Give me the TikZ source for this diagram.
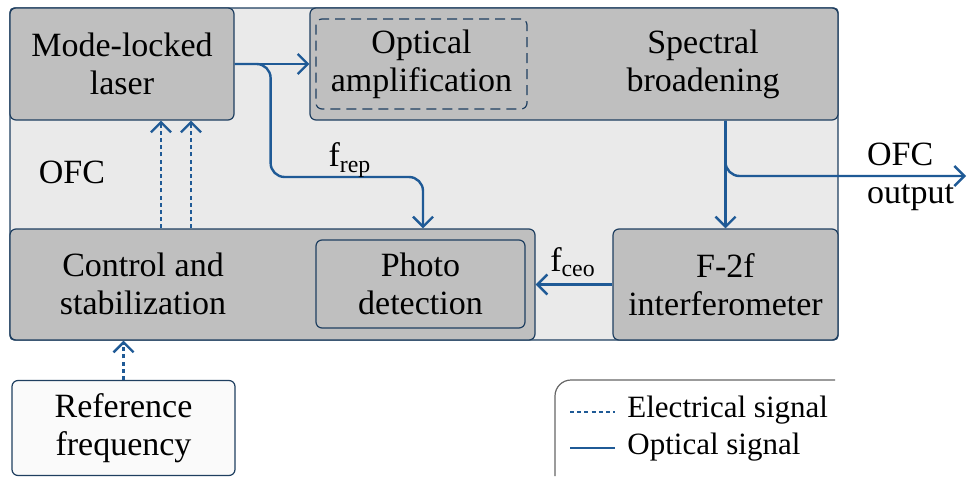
\documentclass[tikz,border=0pt]{standalone}
\usepackage{fontspec}
\setmainfont{Liberation Serif}
\usetikzlibrary{arrows.meta,calc}
\definecolor{boxgrey}{HTML}{BFBFBF}
\definecolor{ofcgrey}{HTML}{EAEAEA}
\definecolor{refwhite}{HTML}{FAFAFA}
\definecolor{edgeblue}{HTML}{1F3F60}
\definecolor{sigblue}{HTML}{1F5A96}
\begin{document}
\begin{tikzpicture}[x=0.5pt,y=-0.5pt,
  font=\fontsize{17}{19}\selectfont,
  blockbox/.style={draw=edgeblue,fill=boxgrey,line width=0.6pt,rounded corners=3pt,
    align=center,inner sep=0pt},
  optic/.style={draw=sigblue,line width=1.2pt,rounded corners=7pt,
    -{Straight Barb[length=5pt,width=10pt]}},
  elec/.style={optic,dash pattern=on 2pt off 1.6pt},
  legtext/.style={anchor=west,font=\fontsize{15.5}{18}\selectfont,inner sep=0pt}]
 \useasboundingbox (0,0) rectangle (967,476);
 % OFC frame
 \node[blockbox,fill=ofcgrey,rounded corners=2pt,minimum width=414pt,minimum height=166pt] (ofc) at (424,174) {};
 \node (ofclbl) at (72,172) {OFC};
 % blocks
 \node[blockbox,minimum width=112pt,minimum height=56pt] (laser) at (122,64) {Mode-locked\\laser};
 \node[blockbox,minimum width=264pt,minimum height=56pt] (spec) at (574,64) {};
 \node[blockbox,dashed,dash pattern=on 5pt off 3pt,minimum width=105.5pt,minimum height=45pt] (amp) at (421.5,64) {Optical\\amplification};
 \node[align=center] (spectxt) at (703,64) {Spectral\\broadening};
 \node[blockbox,minimum width=262.5pt,minimum height=55.5pt] (ctrl) at (272.5,284.5) {};
 \node[align=center] (ctrltxt) at (143,284) {Control and\\stabilization};
 \node[blockbox,minimum width=104.5pt,minimum height=44pt] (pd) at (420.5,284) {Photo\\detection};
 \node[blockbox,minimum width=112.5pt,minimum height=55.5pt] (f2f) at (725.5,284.5) {F-2f\\interferometer};
 \node[blockbox,fill=refwhite,minimum width=111.5pt,minimum height=47.5pt] (ref) at (123.5,428) {Reference\\frequency};
 % optical paths
 \coordinate (frepturn) at (423,177);
 \coordinate (outend) at (966,176);
 \draw[optic] (laser.east) -- (spec.west);
 \draw[optic] (laser.east) -- ++(18pt,0) |- (frepturn) -- (frepturn |- ctrl.north);
 \node (frep) at (350,160) {f\textsubscript{rep}};
 \draw[optic] (f2f.north |- spec.south) -- (f2f.north);
 \draw[optic] (f2f.north |- spec.south) |- (outend);
 \node[align=left,anchor=west] (outlbl) at (860,177) {OFC\\output};
 \draw[optic] (f2f.west) -- (ctrl.east |- f2f.west);
 \node (fceo) at (573,262) {f\textsubscript{ceo}};
 % electrical paths
 \coordinate (e1) at ($(laser.south)+(19.5pt,0)$);
 \coordinate (e2) at ($(laser.south)+(34.5pt,0)$);
 \draw[elec] (e1 |- ctrl.north) -- (e1);
 \draw[elec] (e2 |- ctrl.north) -- (e2);
 \draw[elec] (ref.north) -- (ref.north |- ctrl.south);
 % legend
 \draw[black!60,line width=0.6pt,rounded corners=8pt] (555,476) |- (835,380);
 \coordinate (l1) at (570,412);
 \coordinate (l2) at (570,448);
 \draw[sigblue,line width=1.2pt,dash pattern=on 2pt off 1.6pt] (l1) -- ++(45,0);
 \draw[sigblue,line width=1.2pt] (l2) -- ++(45,0);
 \node[legtext] (eleg) at (627,410) {Electrical signal};
 \node[legtext] (oleg) at (627,447) {Optical signal};
\end{tikzpicture}
\end{document}
